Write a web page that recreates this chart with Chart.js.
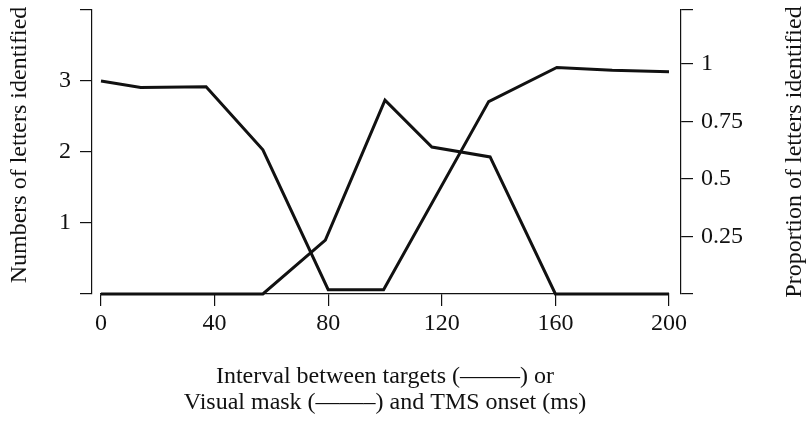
<!DOCTYPE html>
<html lang="en">
<head>
<meta charset="UTF-8">
<title>Letters identified vs onset interval</title>
<script src="https://cdn.jsdelivr.net/npm/chart.js"></script>
<style>
  html, body {
    margin: 0;
    padding: 0;
    background: #fff;
  }
  #graphique {
    display: block;
  }
</style>
</head>
<body>
<canvas id="graphique" width="809" height="422"></canvas>

<script>
// Interval / onset (ms) and values
const xCibles = [0, 14, 37, 57, 80, 99.5, 136.5, 160.5, 180, 200];
const yCibles = [3.0, 2.91, 2.92, 2.03, 0.06, 0.06, 2.71, 3.19, 3.15, 3.13];

const xMasque = [0, 57, 79, 100, 116.5, 137, 160, 200];
const yMasque = [0, 0, 0.76, 2.73, 2.07, 1.93, 0, 0];

// tick labels
const ticksX = [0, 40, 80, 120, 160, 200];
const ticksY = [0, 1, 2, 3, 4];
const labelsY = ['', '1', '2', '3', ''];
const maxY1 = 1.235;
const ticksY1 = [0, 0.25, 0.5, 0.75, 1, maxY1];
const labelsY1 = ['', '0.25', '0.5', '0.75', '1', ''];

const titreX = ['Interval between targets (\u2014\u2014\u2013) or', 'Visual mask (\u2014\u2014\u2013) and TMS onset (ms)'];
const titreY = 'Numbers of letters identified';
const titreY1 = 'Proportion of letters identified';

const police = '"Liberation Serif", "Times New Roman", serif';
const noir = '#111';

function points(xs, ys) {
  return xs.map((x, i) => ({x: x, y: ys[i]}));
}

// both side titles read bottom to top (Chart.js turns the right one the other way)
function titreVertical(ctx, texte, x, y) {
  ctx.save();
  ctx.translate(x, y);
  ctx.rotate(-Math.PI / 2);
  ctx.font = '24px ' + police;
  ctx.fillStyle = noir;
  ctx.textAlign = 'center';
  ctx.textBaseline = 'middle';
  ctx.fillText(texte, 0, 0);
  ctx.restore();
}

const titresY = {
  id: 'titresY',
  afterDraw(chart) {
    const g = chart.scales.y, d = chart.scales.y1;
    titreVertical(chart.ctx, titreY, g.left + 20, (g.top + g.bottom) / 2 - 7);
    titreVertical(chart.ctx, titreY1, d.right - 14, (d.top + d.bottom) / 2);
  }
};

const axe = {
  grid: {display: true, drawOnChartArea: false, drawTicks: true, tickLength: 12, color: noir, lineWidth: 1.2},
  border: {display: true, color: noir, width: 1.2}
};

const vide = {
  type: 'linear',
  grid: {display: false},
  border: {display: false},
  ticks: {display: false}
};

function largeur(w) {
  return s => { s.width = w; s.paddingTop = 0; s.paddingBottom = 0; };
}

new Chart(document.getElementById('graphique').getContext('2d'), {
  type: 'line',
  data: {
    datasets: [
      {
        label: 'Targets',
        data: points(xCibles, yCibles),
        borderColor: noir,
        borderWidth: 3,
        pointRadius: 0,
        tension: 0,
        clip: false,
        yAxisID: 'y'
      },
      {
        label: 'Visual mask',
        data: points(xMasque, yMasque),
        borderColor: noir,
        borderWidth: 3,
        pointRadius: 0,
        tension: 0,
        clip: false,
        yAxisID: 'y'
      }
    ]
  },
  options: {
    responsive: false,
    animation: false,
    layout: {padding: {top: 10, left: 0, right: 0, bottom: 0}},
    plugins: {
      legend: {display: false},
      tooltip: {enabled: false}
    },
    scales: {
      x: {
        type: 'linear',
        position: 'bottom',
        min: 0,
        max: 200,
        ...axe,
        afterBuildTicks: s => { s.ticks = ticksX.map(v => ({value: v})); },
        afterFit: s => { s.height = 128; s.paddingLeft = 0; s.paddingRight = 0; },
        ticks: {color: noir, padding: 3, maxRotation: 0, font: {family: police, size: 24}},
        title: {
          display: true,
          text: titreX,
          color: noir,
          padding: {top: 0, bottom: 6},
          font: {family: police, size: 24, lineHeight: 26 / 24}
        }
      },
      y: {
        type: 'linear',
        position: 'left',
        weight: 1,
        min: 0,
        max: 4,
        ...axe,
        afterBuildTicks: s => { s.ticks = ticksY.map(v => ({value: v})); },
        afterFit: largeur(92),
        ticks: {
          color: noir,
          padding: 9,
          font: {family: police, size: 24},
          callback: (v, i) => labelsY[i]
        },
        title: {display: false, text: titreY}
      },
      gauche: {...vide, position: 'left', weight: 0, afterFit: largeur(9)},
      droite: {...vide, position: 'right', weight: 0, afterFit: largeur(12)},
      y1: {
        type: 'linear',
        position: 'right',
        weight: 1,
        min: 0,
        max: maxY1,
        ...axe,
        afterBuildTicks: s => { s.ticks = ticksY1.map(v => ({value: v})); },
        afterFit: largeur(128),
        ticks: {
          color: noir,
          padding: 8,
          font: {family: police, size: 24},
          callback: (v, i) => labelsY1[i]
        },
        title: {display: false, text: titreY1}
      }
    }
  },
  plugins: [titresY]
});
</script>
</body>
</html>
